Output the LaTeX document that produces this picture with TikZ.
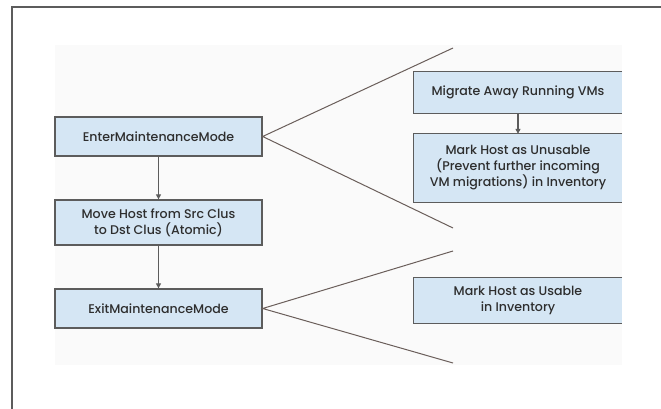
\documentclass[tikz,border=0pt]{standalone}
\usepackage{fontspec}
\setmainfont{Poppins}[UprightFont=* Medium]
\usetikzlibrary{arrows.meta}
\definecolor{boxfill}{HTML}{D5E6F4}
\definecolor{boxline}{HTML}{5C5C5C}
\definecolor{conn}{HTML}{6A5E5A}
\definecolor{txt}{HTML}{2E2E2E}
\definecolor{panel}{HTML}{FAFAFA}
\tikzset{
  lbox/.style={draw=boxline, line width=1.3pt, fill=boxfill, text=txt, minimum width=207pt, align=center, inner sep=0pt, font=\fontsize{12.6}{16}\selectfont},
  rbox/.style={fill=boxfill, text=txt, minimum width=208pt, align=center, inner sep=0pt, font=\fontsize{12.6}{16}\selectfont},
  rborder/.style={draw=boxline, line width=1.3pt},
  flow/.style={draw=boxline, line width=1.3pt, -{Triangle[length=5pt,width=5pt]}},
  branch/.style={draw=conn, line width=1pt},
}
\begin{document}
\begin{tikzpicture}[x=1pt,y=-1pt]
\useasboundingbox (0,0) rectangle (661,409);
\fill[white] (0,0) rectangle (661,409);
\fill[panel] (55,45) rectangle (622,365);
\draw[boxline, line width=1.2pt] (12,409) -- (12,7) -- (661,7);

\node[lbox, minimum height=39pt] (enter) at (158.5,136.5) {EnterMaintenanceMode};
\node[lbox, minimum height=45pt] (move) at (158.5,222.5) {Move Host from Src Clus\\to Dst Clus (Atomic)};
\node[lbox, minimum height=39pt] (exit) at (158.5,308.5) {ExitMaintenanceMode};

\node[rbox, minimum height=41pt] (migrate) at (518,92.5) {Migrate Away Running VMs};
\node[rbox, minimum height=68pt] (unusable) at (518,168) {Mark Host as Unusable\\(Prevent further incoming\\VM migrations) in Inventory};
\node[rbox, minimum height=45pt] (usable) at (518,300.5) {Mark Host as Usable\\in Inventory};

\foreach \n in {migrate,unusable,usable}{
  \draw[rborder] (\n.north east) -- (\n.north west) -- (\n.south west) -- (\n.south east);
}

\draw[flow] (enter) -- (move);
\draw[flow] (move) -- (exit);
\draw[flow] (migrate) -- (unusable);

\coordinate (e1) at (453,48);
\coordinate (e2) at (453,228);
\coordinate (x1) at (453,251);
\coordinate (x2) at (453,363);
\draw[branch] (e1) -- (enter.east) -- (e2);
\draw[branch] (x1) -- (exit.east) -- (x2);
\end{tikzpicture}
\end{document}
